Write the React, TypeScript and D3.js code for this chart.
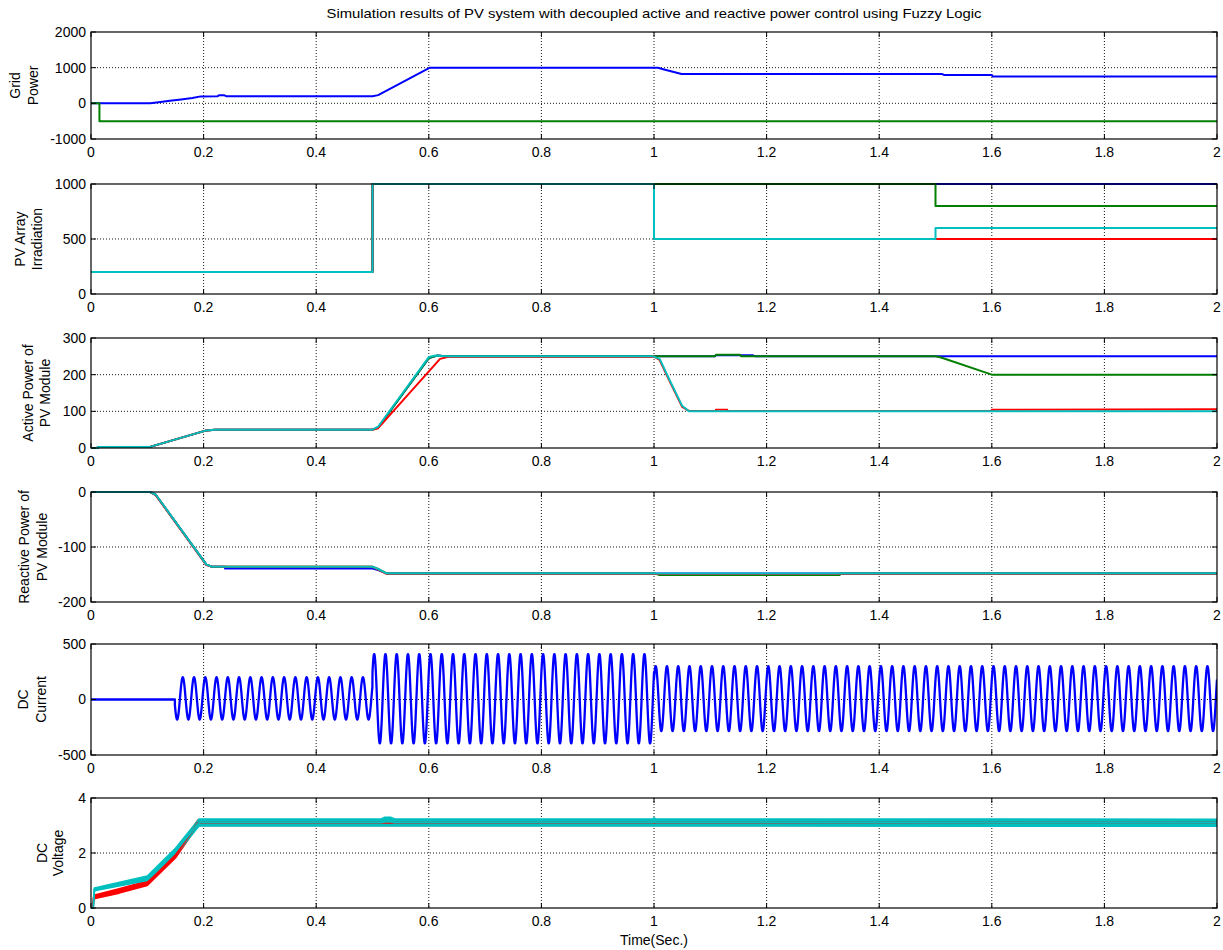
import React from 'react';
import * as d3 from 'd3';

type P = [number, number];
type PR = [number, number, number];

const TITLE = 'Simulation results of PV system with decoupled active and reactive power control using Fuzzy Logic';
const X_LABEL = 'Time(Sec.)';

const timeTicks = [0, 0.2, 0.4, 0.6, 0.8, 1, 1.2, 1.4, 1.6, 1.8, 2];

// Panel 1: Grid Power
const gridPowerTicks = [-1000, 0, 1000, 2000];
const gridPowerBlue: P[] = [
  [0, 0], [0.105, 0], [0.12, 30], [0.14, 70], [0.16, 110], [0.18, 150], [0.195, 195], [0.225, 200],
  [0.228, 230], [0.236, 230], [0.24, 200], [0.5, 200], [0.51, 230], [0.602, 1000], [1.007, 1000],
  [1.018, 950], [1.049, 820], [1.512, 820], [1.515, 795], [1.6, 795], [1.602, 750], [2, 750],
];
const gridPowerGreen: P[] = [[0, 0], [0.015, 0], [0.015, -500], [2, -500]];

// Panel 2: PV Array Irradiation
const irrTicks = [0, 500, 1000];
const irrBlue: P[] = [[0, 200], [0.5, 200], [0.5, 1000], [2, 1000]];
const irrGreen: P[] = [[0, 200], [0.5, 200], [0.5, 1000], [1.5, 1000], [1.5, 800], [2, 800]];
const irrRed: P[] = [[0, 200], [0.5, 200], [0.5, 1000], [1.0, 1000], [1.0, 500], [2, 500]];
const irrCyan: P[] = [[0, 200], [0.5, 200], [0.5, 1000], [1.0, 1000], [1.0, 500], [1.5, 500], [1.5, 600], [2, 600]];

// Panel 3: Active Power of PV Module
const activeTicks = [0, 100, 200, 300];
const activeBlue: P[] = [
  [0, 0], [0.012, 0], [0.012, 3], [0.105, 3], [0.205, 48], [0.22, 50], [0.5, 50], [0.51, 56],
  [0.6, 245], [0.615, 252], [0.63, 250], [1.108, 250], [1.11, 253], [1.175, 253], [1.18, 250], [2, 250],
];
const activeGreen: P[] = [
  [0, 0], [0.012, 0], [0.012, 3], [0.105, 3], [0.205, 48], [0.22, 50], [0.5, 50], [0.51, 56],
  [0.6, 245], [0.615, 252], [0.63, 250], [1.108, 250], [1.11, 254], [1.153, 254], [1.155, 250],
  [1.5, 250], [1.51, 247], [1.6, 200], [2, 200],
];
const activeRed: P[] = [
  [0, 0], [0.012, 0], [0.012, 3], [0.105, 3], [0.205, 48], [0.22, 50], [0.5, 50], [0.51, 54],
  [0.62, 243], [0.635, 249], [1.0, 249], [1.01, 240], [1.03, 175], [1.05, 112], [1.062, 101],
  [1.11, 101], [1.11, 104], [1.13, 104], [1.13, 101], [1.6, 101], [1.6, 104], [2, 106],
];
const activeCyan: P[] = [
  [0, 0], [0.012, 0], [0.012, 3], [0.105, 3], [0.205, 48], [0.22, 50], [0.5, 50], [0.51, 58],
  [0.6, 248], [0.612, 252], [0.63, 250], [0.998, 250], [1.01, 243], [1.03, 178], [1.05, 115],
  [1.062, 100], [2, 100],
];

// Panel 4: Reactive Power of PV Module
const reactiveTicks = [-200, -100, 0];
const reactiveBlue: P[] = [
  [0, 0], [0.105, 0], [0.115, -5], [0.205, -132], [0.215, -136], [0.238, -136], [0.238, -139],
  [0.5, -139], [0.51, -142], [0.525, -148], [2, -148],
];
const reactiveGreen: P[] = [
  [0, 0], [0.105, 0], [0.115, -5], [0.205, -132], [0.215, -136], [0.5, -136], [0.51, -140],
  [0.525, -148], [1.0, -148], [1.01, -151], [1.33, -151], [1.33, -148], [2, -148],
];
const reactiveRed: P[] = [
  [0, 0], [0.105, 0], [0.115, -6], [0.205, -133], [0.215, -136], [0.5, -136], [0.51, -141],
  [0.525, -149], [2, -149],
];
const reactiveCyan: P[] = [
  [0, 0], [0.105, 0], [0.115, -5], [0.205, -132], [0.215, -136], [0.5, -136], [0.51, -140],
  [0.525, -148], [2, -148],
];

// Panel 5: DC Current (50 Hz oscillation, envelope)
const currentTicks = [-500, 0, 500];
const currentFrequency = 50;
const currentPhase = 0.003;
const currentSegments = [
  { start: 0.149, end: 0.5, amp: 190, offset: 10 },
  { start: 0.5, end: 1.0, amp: 403, offset: 7 },
  { start: 1.0, end: 2.0, amp: 293, offset: 8 },
];

// Panel 6: DC Voltage [t, value, ripple half-width]
const voltageTicks = [0, 2, 4];
const voltageRed: PR[] = [
  [0, 0, 0], [0.003, 0, 0], [0.005, 0.4, 0.06], [0.05, 0.62, 0.08], [0.1, 0.9, 0.08],
  [0.15, 1.92, 0.1], [0.19, 3.1, 0.1], [2, 3.1, 0.1],
];
const voltageCyan: PR[] = [
  [0, 0, 0], [0.004, 0, 0], [0.006, 0.68, 0.05], [0.1, 1.08, 0.08], [0.15, 2.05, 0.12],
  [0.192, 3.11, 0.13], [0.515, 3.11, 0.13], [0.522, 3.14, 0.16], [0.532, 3.14, 0.16], [0.54, 3.11, 0.13],
  [0.998, 3.11, 0.13], [1.0, 3.13, 0.15], [1.004, 3.11, 0.13], [2, 3.1, 0.13],
];

const BLUE = '#0000ff';
const GREEN = '#008000';
const RED = '#ff0000';
const CYAN = '#00bfbf';

const W = 1223;
const H = 950;
const LEFT = 91;
const RIGHT = 1217;
const FONT = 'Arial, "Liberation Sans", Helvetica, sans-serif';
const TICK_FONT = 14;

function buildCurrent(): P[] {
  const pts: P[] = [[0, 0], [currentSegments[0].start, 0]];
  const dt = 0.0004;
  currentSegments.forEach((s) => {
    for (let t = s.start; t <= s.end + 1e-9; t += dt) {
      pts.push([t, s.offset + s.amp * Math.cos(2 * Math.PI * currentFrequency * (t - currentPhase))]);
    }
  });
  return pts;
}

interface Panel {
  top: number;
  bottom: number;
  domain: [number, number];
  ticks: number[];
  label: string[];
  labelX: [number, number];
  lines: { data: P[]; color: string; width?: number }[];
  bands?: { data: PR[]; color: string }[];
}

const panels: Panel[] = [
  {
    top: 32, bottom: 139, domain: [-1000, 2000], ticks: gridPowerTicks,
    label: ['Grid', 'Power'], labelX: [20, 38],
    lines: [{ data: gridPowerBlue, color: BLUE }, { data: gridPowerGreen, color: GREEN }],
  },
  {
    top: 184, bottom: 294, domain: [0, 1000], ticks: irrTicks,
    label: ['PV Array', 'Irradiation'], labelX: [25, 42],
    lines: [
      { data: irrBlue, color: BLUE }, { data: irrGreen, color: GREEN },
      { data: irrRed, color: RED }, { data: irrCyan, color: CYAN },
    ],
  },
  {
    top: 338, bottom: 448, domain: [0, 300], ticks: activeTicks,
    label: ['Active Power of', 'PV Module'], labelX: [33, 50],
    lines: [
      { data: activeBlue, color: BLUE }, { data: activeGreen, color: GREEN },
      { data: activeRed, color: RED }, { data: activeCyan, color: CYAN },
    ],
  },
  {
    top: 492, bottom: 602, domain: [-200, 0], ticks: reactiveTicks,
    label: ['Reactive Power of', 'PV Module'], labelX: [29, 47],
    lines: [
      { data: reactiveBlue, color: BLUE }, { data: reactiveGreen, color: GREEN },
      { data: reactiveRed, color: RED }, { data: reactiveCyan, color: CYAN },
    ],
  },
  {
    top: 644, bottom: 755, domain: [-500, 500], ticks: currentTicks,
    label: ['DC', 'Current'], labelX: [28, 46],
    lines: [{ data: buildCurrent(), color: BLUE, width: 2.3 }],
  },
  {
    top: 798, bottom: 908, domain: [0, 4], ticks: voltageTicks,
    label: ['DC', 'Voltage'], labelX: [47, 63],
    lines: [
      { data: voltageRed.map((d) => [d[0], d[1]] as P), color: RED },
      { data: voltageCyan.map((d) => [d[0], d[1]] as P), color: CYAN },
    ],
    bands: [{ data: voltageRed, color: RED }, { data: voltageCyan, color: CYAN }],
  },
];

const fmt = (v: number) => String(v);

function PanelView({ p, idx }: { p: Panel; idx: number }) {
  const x = d3.scaleLinear().domain([0, 2]).range([LEFT, RIGHT]);
  const y = d3.scaleLinear().domain(p.domain).range([p.bottom, p.top]);
  const line = d3.line<P>().x((d) => x(d[0])).y((d) => y(d[1]));
  const area = d3.area<PR>().x((d) => x(d[0])).y0((d) => y(d[1] - d[2])).y1((d) => y(d[1] + d[2]));
  const cy = (p.top + p.bottom) / 2;
  const tl = 5;
  const clipId = `clip${idx}`;
  return (
    <g>
      <defs>
        <clipPath id={clipId}>
          <rect x={LEFT} y={p.top - 2} width={RIGHT - LEFT} height={p.bottom - p.top + 4} />
        </clipPath>
      </defs>
      {timeTicks.slice(1, -1).map((t) => (
        <line key={'gx' + t} x1={x(t)} x2={x(t)} y1={p.top} y2={p.bottom} stroke="#000" strokeWidth={0.9} strokeDasharray="1,2" />
      ))}
      {p.ticks.slice(1, -1).map((v) => (
        <line key={'gy' + v} x1={LEFT} x2={RIGHT} y1={y(v)} y2={y(v)} stroke="#000" strokeWidth={0.9} strokeDasharray="1,2" />
      ))}
      <g clipPath={`url(#${clipId})`}>
        {p.bands && p.bands.map((b, i) => (
          <path key={'b' + i} d={area(b.data) || ''} fill={b.color} stroke={b.color} strokeWidth={1.5} strokeLinejoin="round" />
        ))}
        {p.lines.map((l, i) => (
          <path key={'l' + i} d={line(l.data) || ''} fill="none" stroke={l.color} strokeWidth={l.width ?? 2} strokeLinejoin="round" />
        ))}
      </g>
      <rect x={LEFT} y={p.top} width={RIGHT - LEFT} height={p.bottom - p.top} fill="none" stroke="#000" strokeWidth={1.2} />
      {timeTicks.map((t) => (
        <g key={'tx' + t}>
          <line x1={x(t)} x2={x(t)} y1={p.bottom} y2={p.bottom - tl} stroke="#000" strokeWidth={1} />
          <line x1={x(t)} x2={x(t)} y1={p.top} y2={p.top + tl} stroke="#000" strokeWidth={1} />
          <text x={x(t)} y={p.bottom + 18} textAnchor="middle" fontSize={TICK_FONT} fontFamily={FONT} fill="#000">
            {fmt(t)}
          </text>
        </g>
      ))}
      {p.ticks.map((v) => (
        <g key={'ty' + v}>
          <line x1={LEFT} x2={LEFT + tl} y1={y(v)} y2={y(v)} stroke="#000" strokeWidth={1} />
          <line x1={RIGHT} x2={RIGHT - tl} y1={y(v)} y2={y(v)} stroke="#000" strokeWidth={1} />
          <text x={LEFT - 5} y={y(v)} dy="0.35em" textAnchor="end" fontSize={TICK_FONT} fontFamily={FONT} fill="#000">
            {fmt(v)}
          </text>
        </g>
      ))}
      {p.label.map((s, i) => (
        <text key={'lab' + i} transform={`translate(${p.labelX[i]},${cy}) rotate(-90)`} textAnchor="middle"
          fontSize={TICK_FONT} fontFamily={FONT} fill="#000">
          {s}
        </text>
      ))}
    </g>
  );
}

export default function App() {
  return (
    <svg width={W} height={H} style={{ position: 'absolute', left: 0, top: 0, background: '#fff' }}>
      <rect x={0} y={0} width={W} height={H} fill="#fff" />
      <text x={(LEFT + RIGHT) / 2} y={18} textAnchor="middle" fontSize={13} fontFamily={FONT} fill="#000"
        textLength={655} lengthAdjust="spacingAndGlyphs">
        {TITLE}
      </text>
      {panels.map((p, i) => <PanelView key={i} p={p} idx={i} />)}
      <text x={(LEFT + RIGHT) / 2} y={945} textAnchor="middle" fontSize={TICK_FONT} fontFamily={FONT} fill="#000">
        {X_LABEL}
      </text>
    </svg>
  );
}
